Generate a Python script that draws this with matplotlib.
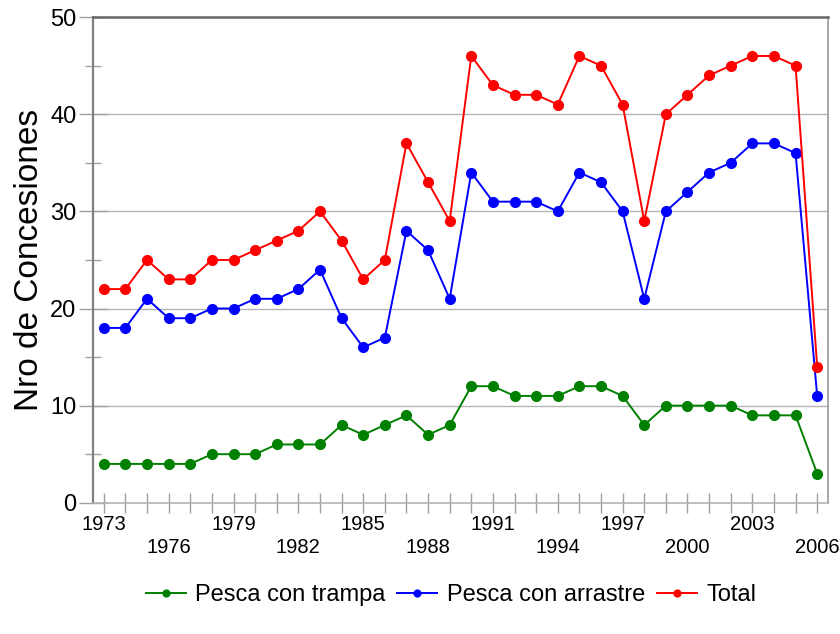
import matplotlib.pyplot as plt
import numpy as np

plt.rcParams['font.family'] = ['Liberation Sans', 'DejaVu Sans']

years = list(range(1973, 2007))
trampa = [4, 4, 4, 4, 4, 5, 5, 5, 6, 6, 6, 8, 7, 8, 9, 7, 8,
          12, 12, 11, 11, 11, 12, 12, 11, 8, 10, 10, 10, 10, 9, 9, 9, 3]
arrastre = [18, 18, 21, 19, 19, 20, 20, 21, 21, 22, 24, 19, 16, 17, 28, 26, 21,
            34, 31, 31, 31, 30, 34, 33, 30, 21, 30, 32, 34, 35, 37, 37, 36, 11]
total = [22, 22, 25, 23, 23, 25, 25, 26, 27, 28, 30, 27, 23, 25, 37, 33, 29,
         46, 43, 42, 42, 41, 46, 45, 41, 29, 40, 42, 44, 45, 46, 46, 45, 14]

fig = plt.figure(figsize=(8.4, 6.34), dpi=100)
ax = fig.add_axes([0.1107, 0.207, 0.875, 0.766])

series = [
    (trampa, '#008000', 'Pesca con trampa'),
    (arrastre, '#0000ff', 'Pesca con arrastre'),
    (total, '#ff0000', 'Total'),
]
for vals, col, lab in series:
    ax.plot(years, vals, color=col, lw=1.4, marker='o', ms=7,
            mec=col, mfc=col, label=lab, zorder=3)

ax.set_xlim(1972.5, 2006.5)
ax.set_ylim(0, 50)

# y axis: labels every 10, small ticks every 5
ax.set_yticks(np.arange(0, 51, 10))
ax.set_yticks(np.arange(5, 50, 10), minor=True)
ax.tick_params(axis='y', which='major', direction='inout', length=20,
               width=1, color='#a0a0a0', labelsize=17, pad=2)
ax.tick_params(axis='y', which='minor', direction='inout', length=12,
               width=1, color='#a0a0a0')

# x axis: a tick for every year, label every third year on two rows
lab_years = years[::3]
xlabels = [str(y) if i % 2 == 0 else '\n' + str(y) for i, y in enumerate(lab_years)]
ax.set_xticks(lab_years)
ax.set_xticklabels(xlabels, linespacing=1.25)
ax.set_xticks(years, minor=True)
ax.tick_params(axis='x', which='both', direction='inout', length=14,
               width=1, color='#a0a0a0', labelsize=14.5, pad=2)

for y in range(10, 50, 10):
    ax.axhline(y, color='#b4b4b4', lw=1, zorder=1)

ax.spines['left'].set_color('#808080')
ax.spines['left'].set_linewidth(1.6)
ax.spines['top'].set_color('#666666')
ax.spines['top'].set_linewidth(1.8)
ax.spines['right'].set_color('#999999')
ax.spines['right'].set_linewidth(1.2)
ax.spines['bottom'].set_color('#b4b4b4')
ax.spines['bottom'].set_linewidth(1.2)

ax.set_ylabel('Nro de Concesiones', fontsize=24, labelpad=4)

fig.legend(loc='lower center', bbox_to_anchor=(0.537, 0.01), ncol=3,
           frameon=False, fontsize=17, handlelength=1.7, handletextpad=0.4,
           columnspacing=0.5, markerscale=0.7)

fig.savefig('out.png', dpi=100)
